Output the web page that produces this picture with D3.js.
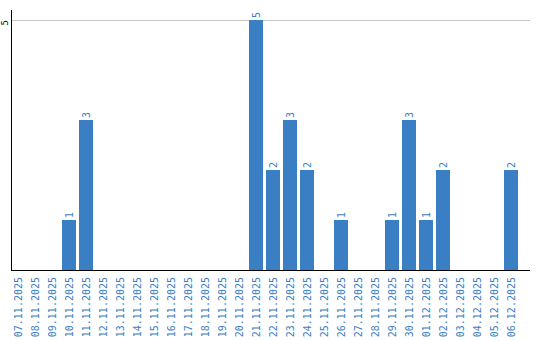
<!DOCTYPE html>
<html>
<head>
<meta charset="utf-8">
<script src="https://cdn.jsdelivr.net/npm/d3@7"></script>
<style>
  body { margin: 0; background: #fff; }
  svg { display: block; }
</style>
</head>
<body>
<svg id="chart" width="540" height="340"></svg>
<script>
// dates shown on the x axis, one per day
const dates = [
  '07.11.2025', '08.11.2025', '09.11.2025', '10.11.2025', '11.11.2025',
  '12.11.2025', '13.11.2025', '14.11.2025', '15.11.2025', '16.11.2025',
  '17.11.2025', '18.11.2025', '19.11.2025', '20.11.2025', '21.11.2025',
  '22.11.2025', '23.11.2025', '24.11.2025', '25.11.2025', '26.11.2025',
  '27.11.2025', '28.11.2025', '29.11.2025', '30.11.2025', '01.12.2025',
  '02.12.2025', '03.12.2025', '04.12.2025', '05.12.2025', '06.12.2025'
];
const counts = [
  0, 0, 0, 1, 3,
  0, 0, 0, 0, 0,
  0, 0, 0, 0, 5,
  2, 3, 2, 0, 1,
  0, 0, 1, 3, 1,
  2, 0, 0, 0, 2
];
const yTicks = [5];

const blue = '#3a7ec3';
const font = '"DejaVu Sans Mono", monospace';

const svg = d3.select('#chart');
const plotLeft = 11, plotRight = 530, plotTop = 10, plotBottom = 270;

var x = d3.scaleBand()
  .domain(dates)
  .range([plotLeft, plotLeft + dates.length * 17]);

var y = d3.scaleLinear()
  .domain([0, 5.2])
  .range([plotBottom, plotTop]);

// grid line
svg.append('g')
  .selectAll('line')
  .data(yTicks)
  .join('line')
  .attr('x1', plotLeft)
  .attr('x2', plotRight)
  .attr('y1', d => y(d) + 0.5)
  .attr('y2', d => y(d) + 0.5)
  .style('stroke', '#c8c8c8');

// y tick labels (rotated)
svg.append('g')
  .selectAll('text')
  .data(yTicks)
  .join('text')
  .attr('transform', d => 'translate(8,' + y(d) + ') rotate(-90)')
  .attr('text-anchor', 'end')
  .style('font-family', font)
  .style('font-size', '9px')
  .style('fill', '#000')
  .text(d => d);

// bars
const data = dates.map((d, i) => ({ date: d, value: counts[i] }));
const barW = 14;

svg.append('g')
  .selectAll('rect')
  .data(data.filter(d => d.value > 0))
  .join('rect')
  .attr('x', d => x(d.date))
  .attr('y', d => y(d.value))
  .attr('width', barW)
  .attr('height', d => plotBottom - y(d.value))
  .style('fill', blue);

// value labels
svg.append('g')
  .selectAll('text')
  .data(data.filter(d => d.value > 0))
  .join('text')
  .attr('transform', d => 'translate(' + (x(d.date) + barW / 2 + 3.5) + ',' + (y(d.value) - 2) + ') rotate(-90)')
  .attr('text-anchor', 'start')
  .style('font-family', font)
  .style('font-size', '10px')
  .style('fill', blue)
  .text(d => d.value);

// x labels
svg.append('g')
  .selectAll('text')
  .data(dates)
  .join('text')
  .attr('transform', d => 'translate(' + (x(d) + barW / 2 + 3.5) + ',' + (plotBottom + 7) + ') rotate(-90)')
  .attr('text-anchor', 'end')
  .style('font-family', font)
  .style('font-size', '10px')
  .style('fill', blue)
  .text(d => d);

// axes lines
svg.append('line')
  .attr('x1', plotLeft + 0.5).attr('x2', plotLeft + 0.5)
  .attr('y1', plotTop).attr('y2', plotBottom + 1)
  .style('stroke', '#000');
svg.append('line')
  .attr('x1', plotLeft).attr('x2', plotRight)
  .attr('y1', plotBottom + 0.5).attr('y2', plotBottom + 0.5)
  .style('stroke', '#000');
</script>
</body>
</html>
